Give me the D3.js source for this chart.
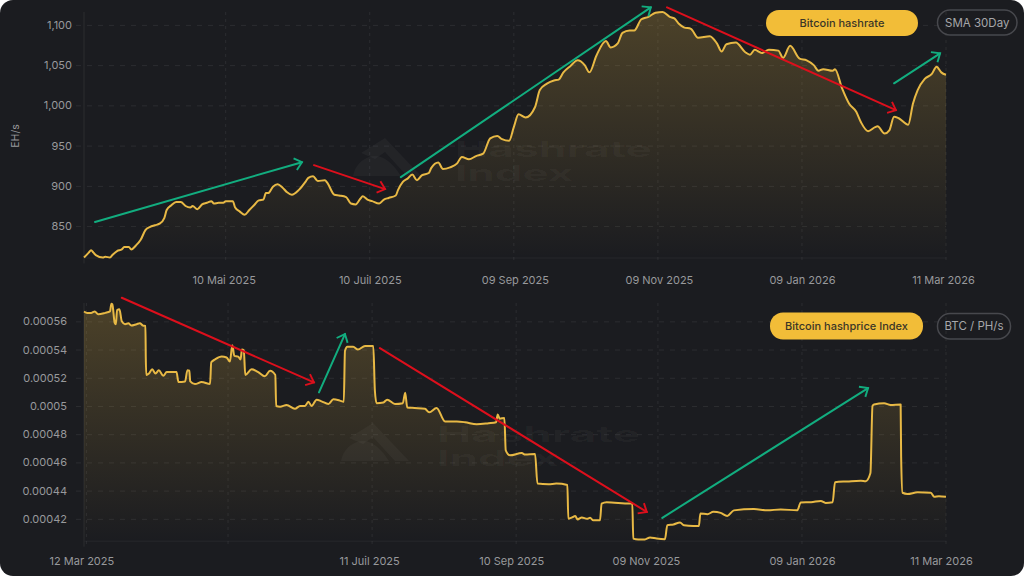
<!DOCTYPE html>
<html>
<head>
<meta charset="utf-8">
<script src="https://cdn.jsdelivr.net/npm/d3@7"></script>
<style>
  html, body { margin: 0; background: #fff; }
  svg { display: block; font-family: Inter, "Noto Sans", sans-serif; }
</style>
</head>
<body>
<svg id="chart" width="1024" height="576"></svg>
<script>
// day offsets are counted from the first day of the x axis
const firstDay = new Date(2025, 2, 11);
const lastDay = new Date(2026, 2, 11);

const hashrateDays = [0,2,3,4,5,8,9,11,12,14,16,17,19,20,22,24,26,28,30,32,34,35,37,39,41,43,45,46,48,50,52,54,55,57,59,60,63,64,66,68,70,72,74,76,77,78,80,82,84,86,88,91,94,95,97,99,102,103,106,108,111,113,115,117,118,120,122,125,127,129,132,133,135,137,139,141,143,146,147,150,152,155,158,160,163,166,169,172,175,177,180,182,184,187,191,193,196,199,201,203,206,209,212,214,217,221,223,226,228,231,233,236,239,242,245,248,250,252,254,257,260,265,268,270,272,276,280,282,284,287,290,294,296,299,303,306,309,311,313,317,318,321,324,327,329,332,335,336,339,341,343,345,349,351,353,356,359,361,363,365];
const hashrateValues = [811,817,820,817,814,811,812,811,814,819,821,824,824,821,826,833,845,849,851,853,860,870,876,880,880,875,873,875,871,877,879,881,878,879,879,881,881,873,868,864,870,876,882,883,891,891,899,902,898,892,889,895,906,910,912,906,907,904,889,888,886,878,877,884,887,883,881,878,883,885,888,895,905,909,914,907,913,916,922,929,921,923,928,936,933,937,940,959,962,958,956,973,989,985,998,1019,1027,1031,1032,1041,1049,1056,1050,1041,1062,1080,1072,1077,1090,1093,1093,1107,1110,1115,1116,1110,1108,1101,1097,1095,1084,1086,1077,1067,1076,1078,1066,1063,1069,1065,1069,1068,1059,1074,1058,1056,1050,1043,1045,1043,1045,1021,1002,992,979,968,973,974,965,969,986,984,976,1002,1019,1033,1039,1048,1041,1038];

const hashpriceDays = [0,1.4,3,4.6,6,9,11,11.6,12,13,13.5,14,15,16,17.4,18.8,20,22.3,23.7,25,26,26.2,26.4,27.5,28.9,30.3,31.7,33.6,35,39.2,40,42.8,43.8,44.6,45,47,49.8,53.4,53.9,55.5,58.3,60.4,61.8,62.8,63.7,65.3,66.3,66.9,67.7,68.3,71,73.8,76.6,78.8,81,81.4,83,85.8,89.3,91.5,93.6,95,96.4,98.5,100.6,103.5,105.6,108.4,110,110.5,111.5,114,116,119,122.5,123.2,123.9,126.8,128.4,131.7,135,136,136.9,140,144.4,146.2,149.3,152.9,157.9,161.3,166.3,171.3,174.5,175.2,176,178,178.6,180.4,185.4,186.8,191,192,196.7,200,204.7,205.1,206.7,208,209,210.8,213,214.3,215.7,218.5,219.2,221.3,231.2,232.2,232.6,234.7,237.5,239.7,242.5,246,247,249.6,252.4,254,258,260.4,261,264,266.5,269.6,272.4,275.2,283.7,289.4,295,302,303.5,307.9,312,314,317,318,323.2,329,331,333,333.9,334.5,338.8,341.6,345.8,346,346.6,348.7,353,358.6,360,362,365];
const hashpriceValues = [0.000567,0.000566,0.000566,0.000567,0.000565,0.000566,0.000567,0.0005725,0.000572,0.000559,0.000558,0.000568,0.0005685,0.00056,0.000558,0.0005586,0.000557,0.000558,0.0005586,0.000557,0.0005567,0.000534,0.000522,0.000523,0.000526,0.000523,0.0005254,0.0005214,0.000524,0.000524,0.000517,0.0005174,0.0005254,0.000525,0.0005174,0.0005155,0.000517,0.0005155,0.000531,0.000533,0.000535,0.0005344,0.0005315,0.000543,0.0005355,0.000535,0.000533,0.00054,0.0005395,0.000522,0.000526,0.000524,0.000521,0.000525,0.000522,0.0005,0.0004995,0.0005007,0.000498,0.0005,0.0005,0.000503,0.0005,0.0005045,0.0005033,0.0005014,0.0005047,0.0005038,0.000503,0.000539,0.000542,0.000542,0.00054,0.0005426,0.0005426,0.000511,0.000502,0.0005025,0.0005045,0.0005014,0.000502,0.0005094,0.000499,0.0004986,0.000498,0.0004955,0.0004986,0.000489,0.000489,0.0004885,0.000487,0.0004878,0.0004885,0.000494,0.000491,0.0004915,0.0004685,0.000465,0.0004666,0.0004656,0.000466,0.000445,0.0004445,0.000445,0.000444,0.00042,0.000421,0.000422,0.0004196,0.000421,0.00042,0.0004207,0.000419,0.000419,0.0004308,0.0004318,0.0004308,0.000431,0.000406,0.0004054,0.0004054,0.0004068,0.000406,0.0004056,0.0004155,0.000416,0.0004174,0.0004155,0.000415,0.000415,0.0004238,0.0004233,0.000425,0.0004242,0.000422,0.000426,0.000427,0.000426,0.0004267,0.000426,0.0004316,0.0004318,0.0004327,0.0004313,0.0004318,0.000446,0.0004465,0.000447,0.0004467,0.0004525,0.0005,0.000501,0.0005019,0.0005007,0.000501,0.000464,0.0004385,0.0004376,0.0004388,0.0004385,0.0004356,0.000436,0.0004356];

const hashrateTickDates = [new Date(2025,4,10), new Date(2025,6,10), new Date(2025,8,9), new Date(2025,10,9), new Date(2026,0,9), new Date(2026,2,11)];
const hashrateTickLabels = ["10 Mai 2025", "10 Juil 2025", "09 Sep 2025", "09 Nov 2025", "09 Jan 2026", "11 Mar 2026"];
const hashpriceTickDates = [new Date(2025,2,12), new Date(2025,4,11), new Date(2025,6,11), new Date(2025,8,10), new Date(2025,10,9), new Date(2026,0,9), new Date(2026,2,11)];
const hashpriceTickLabels = ["12 Mar 2025", "", "11 Juil 2025", "10 Sep 2025", "09 Nov 2025", "09 Jan 2026", "11 Mar 2026"];

const hashrateYTicks = [850, 900, 950, 1000, 1050, 1100];
const hashpriceYTicks = [0.00042, 0.00044, 0.00046, 0.00048, 0.0005, 0.00052, 0.00054, 0.00056];

// trend arrows, [day, value, day, value]
const hashrateGreenArrows = [[4.7,855,92.3,929.4],[134.2,910.8,240,1121.7],[343,1027.4,362.5,1064.6]];
const hashrateRedArrows = [[97.4,925.7,127.5,896],[246.9,1121.7,343.8,994]];
const hashpriceGreenArrows = [[99.5,0.0005096,110.5,0.000551],[244.9,0.0004207,332,0.0005127]];
const hashpriceRedArrows = [[16,0.0005767,97.4,0.0005167],[125.3,0.000541,238.3,0.0004249]];

const gold = "#e8b945";
const green = "#12ad7f";
const red = "#dd0f1c";
const grid = "rgba(255,255,255,0.075)";
const labelColor = "#98999c";

const svg = d3.select("#chart");
svg.append("rect").attr("width", 1024).attr("height", 576).attr("rx", 13).attr("fill", "#1b1c20");

const defs = svg.append("defs");
[["green", green], ["red", red]].forEach(([name, color]) => {
  defs.append("marker")
    .attr("id", "head-" + name)
    .attr("viewBox", "-6 -6 8 12")
    .attr("markerUnits", "userSpaceOnUse")
    .attr("markerWidth", 14).attr("markerHeight", 20)
    .attr("orient", "auto")
    .append("path")
    .attr("d", "M-4.2,-3.6L0,0L-4.2,3.6")
    .attr("fill", "none").attr("stroke", color).attr("stroke-width", 1.15);
});

const x = d3.scaleTime().domain([firstDay, lastDay]).range([84, 946]);
const dayX = (d) => x(d3.timeHour.offset(firstDay, d * 24));

function drawPanel(opts) {
  const y = d3.scaleLinear().domain(opts.yDomain).range(opts.yRange);
  const [bottom, top] = opts.yRange;
  const g = svg.append("g");

  defs.append("linearGradient")
    .attr("id", opts.id)
    .attr("gradientUnits", "userSpaceOnUse")
    .attr("x1", 0).attr("x2", 0).attr("y1", top).attr("y2", bottom)
    .selectAll("stop")
    .data([[0, 0.24], [0.5, 0.12], [1, 0]])
    .join("stop")
    .attr("offset", (d) => d[0])
    .attr("stop-color", gold)
    .attr("stop-opacity", (d) => d[1]);

  // grid + axes
  const xAxis = d3.axisBottom(x).tickValues(opts.tickDates)
    .tickFormat((d, i) => opts.tickLabels[i]).tickSize(0).tickPadding(0);
  const xg = g.append("g").attr("transform", `translate(0,${bottom})`).call(xAxis);
  xg.select(".domain").attr("stroke", "rgba(255,255,255,0.05)");
  xg.selectAll("text")
    .attr("y", opts.labelY - bottom).attr("dy", "0.35em")
    .attr("dx", (d, i) => opts.labelShift[i])
    .attr("fill", labelColor).attr("font-size", 11).attr("font-family", "Inter");

  g.append("g").selectAll("line").data(opts.tickDates).join("line")
    .attr("x1", (d) => x(d)).attr("x2", (d) => x(d))
    .attr("y1", top).attr("y2", bottom + 6)
    .attr("stroke", grid).attr("stroke-dasharray", "3 4");
  g.append("line").attr("x1", 84).attr("x2", 84).attr("y1", top).attr("y2", bottom + 6)
    .attr("stroke", grid);

  const yAxis = d3.axisLeft(y).tickValues(opts.yTicks).tickFormat(opts.yFormat).tickSize(0).tickPadding(0);
  const yg = g.append("g").attr("transform", "translate(84,0)").call(yAxis);
  yg.select(".domain").remove();
  yg.selectAll("text")
    .attr("x", opts.labelX - 84)
    .attr("fill", labelColor).attr("font-size", 11).attr("font-family", "Inter");
  yg.selectAll(".tick").append("line")
    .attr("x1", -8).attr("x2", 862)
    .attr("stroke", grid).attr("stroke-dasharray", "5 6");

  const points = d3.zip(opts.days, opts.values);
  g.append("path").datum(points)
    .attr("fill", `url(#${opts.id})`)
    .attr("d", d3.area().x((d) => dayX(d[0])).y0(bottom).y1((d) => y(d[1])).curve(d3.curveMonotoneX));

  // watermark
  const wm = g.append("g").attr("transform", `translate(${opts.mark[0]},${opts.mark[1]})`)
    .attr("fill", "#ffffff").attr("fill-opacity", 0.035);
  wm.append("path").attr("d", "M-24,15L0,0L36,38L22,38L0,14L-10,21Z");
  wm.append("path").attr("d", "M-32,38C-30,26 -20,18 -10,18C0,18 8,26 16,38Z");
  wm.append("text").attr("x", opts.mark[2]).attr("y", 19).attr("font-size", 22).attr("font-weight", 700)
    .attr("textLength", opts.mark[3]).attr("lengthAdjust", "spacingAndGlyphs").text("Hashrate");
  wm.append("text").attr("x", opts.mark[2]).attr("y", 43).attr("font-size", 22).attr("font-weight", 700)
    .attr("textLength", opts.mark[3] * 0.6).attr("lengthAdjust", "spacingAndGlyphs").text("Index");

  g.append("path").datum(points)
    .attr("fill", "none").attr("stroke", gold).attr("stroke-width", 2)
    .attr("stroke-linejoin", "round")
    .attr("d", d3.line().x((d) => dayX(d[0])).y((d) => y(d[1])).curve(d3.curveMonotoneX));

  // arrows
  [["green", green, opts.greenArrows], ["red", red, opts.redArrows]].forEach(([name, color, arrows]) => {
    g.append("g").selectAll("line").data(arrows).join("line")
      .attr("x1", (d) => dayX(d[0])).attr("y1", (d) => y(d[1]))
      .attr("x2", (d) => dayX(d[2])).attr("y2", (d) => y(d[3]))
      .attr("stroke", color).attr("stroke-width", 2).attr("stroke-linecap", "round")
      .attr("marker-end", `url(#head-${name})`);
  });

  // legend pills
  const pill = g.append("g");
  pill.append("rect").attr("x", opts.pill[0]).attr("y", opts.pill[1])
    .attr("width", opts.pill[2]).attr("height", opts.pill[3]).attr("rx", 13).attr("fill", "#f2bd38");
  pill.append("text").attr("x", opts.pill[0] + opts.pill[2] / 2).attr("y", opts.pill[1] + opts.pill[3] / 2)
    .attr("dy", "0.35em").attr("text-anchor", "middle").attr("font-size", 11).attr("font-weight", 500)
    .attr("fill", "#3b3627").text(opts.title);
  const unit = g.append("g");
  unit.append("rect").attr("x", opts.unitPill[0]).attr("y", opts.unitPill[1])
    .attr("width", opts.unitPill[2]).attr("height", opts.unitPill[3]).attr("rx", 12.5)
    .attr("fill", "none").attr("stroke", "#47484d").attr("stroke-width", 1.5);
  unit.append("text").attr("x", opts.unitPill[0] + opts.unitPill[2] / 2).attr("y", opts.unitPill[1] + opts.unitPill[3] / 2)
    .attr("dy", "0.35em").attr("text-anchor", "middle").attr("font-size", 11.5)
    .attr("fill", "#a6a7aa").text(opts.unit);
}

drawPanel({
  id: "fill-hashrate",
  days: hashrateDays, values: hashrateValues,
  yDomain: [811, 1116], yRange: [257.5, 12],
  yTicks: hashrateYTicks, yFormat: d3.format(","),
  tickDates: hashrateTickDates, tickLabels: hashrateTickLabels,
  labelShift: [-2, 0, 1, 1, 0, -3],
  labelX: 72, labelY: 280,
  greenArrows: hashrateGreenArrows, redArrows: hashrateRedArrows,
  mark: [385, 138, 70, 197],
  title: "Bitcoin hashrate", pill: [766, 10, 152, 26],
  unit: "SMA 30Day", unitPill: [937.5, 10, 79.5, 25]
});

drawPanel({
  id: "fill-hashprice",
  days: hashpriceDays, values: hashpriceValues,
  yDomain: [0.0004045, 0.000573], yRange: [540.7, 303],
  yTicks: hashpriceYTicks, yFormat: (d) => String(+d.toFixed(5)),
  tickDates: hashpriceTickDates, tickLabels: hashpriceTickLabels,
  labelShift: [-5, 0, -3, -5, -12, 0, -5],
  labelX: 67, labelY: 561,
  greenArrows: hashpriceGreenArrows, redArrows: hashpriceRedArrows,
  mark: [373, 423, 64, 203],
  title: "Bitcoin hashprice Index", pill: [770, 312.5, 153, 27],
  unit: "BTC / PH/s", unitPill: [937.5, 313.5, 73, 25.5]
});

svg.append("text")
  .attr("transform", "translate(15,136) rotate(-90)")
  .attr("text-anchor", "middle").attr("dy", "0.35em")
  .attr("font-size", 10.5).attr("fill", labelColor)
  .text("EH/s");
</script>
</body>
</html>
